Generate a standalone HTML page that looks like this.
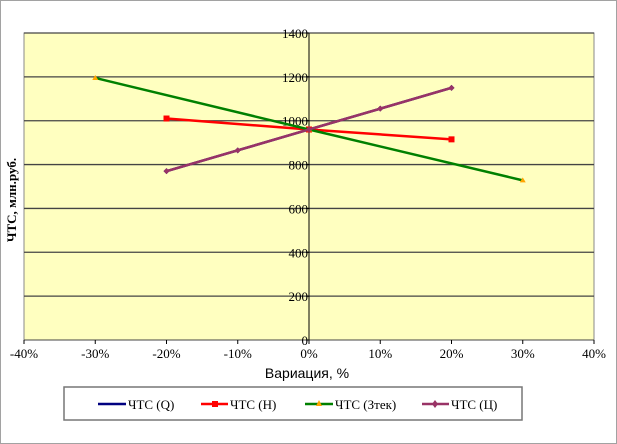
<!DOCTYPE html>
<html><head><meta charset="utf-8"><style>
body{margin:0;background:#fff}
svg{display:block;font-family:"Liberation Serif",serif}
</style></head><body>
<svg width="617" height="444">
<rect x="0.5" y="0.5" width="616" height="443" fill="#fff" stroke="#444" stroke-dasharray="1,1"/>
<rect x="24" y="33" width="570" height="307" fill="#ffffc0" stroke="#888"/>
<g id="grid"></g><g id="axes"></g><g id="series"></g>
<text x="16" y="200" font-size="13" font-weight="bold" transform="rotate(-90 16 200)" text-anchor="middle">ЧТС, млн.руб.</text>
<text x="307" y="378" font-size="14" font-family="Liberation Sans, sans-serif" text-anchor="middle">Вариация, %</text>
<g>
<rect x="64" y="387" width="458" height="33" fill="#fff" stroke="#777" stroke-width="1.5"/>
<g><line x1="98" y1="404" x2="126" y2="404" stroke="#000080" stroke-width="2.5"/><text x="128" y="409" font-size="13">ЧТС (Q)</text></g>
<g><line x1="201" y1="404" x2="228" y2="404" stroke="red" stroke-width="2.5"/><rect x="212" y="401" width="6" height="6" fill="red"/><text x="230" y="409" font-size="13">ЧТС (Н)</text></g>
<g><line x1="305" y1="404" x2="333" y2="404" stroke="#008000" stroke-width="2.5"/><path d="M319 400 L322 406 L316 406Z" fill="orange"/><text x="335" y="409" font-size="13">ЧТС (Зтек)</text></g>
<g><line x1="422" y1="404" x2="449" y2="404" stroke="#993366" stroke-width="2.5"/><path d="M435 400 L438 404 L435 408 L432 404Z" fill="#993366"/><text x="451" y="409" font-size="13">ЧТС (Ц)</text></g>
</g>
</svg>
<script>
const yTicks=[0,200,400,600,800,1000,1200,1400];
const xTicks=[-40,-30,-20,-10,0,10,20,30,40];
const xQ=[-20,-10,0,10,20]; const vQ=[770,865,960,1055,1150];
const xH=[-20,0,20]; const vH=[1010,960,915];
const xZ=[-30,0,30]; const vZ=[1195,960,728];
const xC=[-20,-10,0,10,20]; const vC=[770,865,960,1055,1150];
const NS="http://www.w3.org/2000/svg";
const X=v=>309+v*(570/80), Y=v=>340-v*(307/1400);
function mk(t,a,p){const e=document.createElementNS(NS,t);for(const k in a)e.setAttribute(k,a[k]);p.appendChild(e);return e;}
const g=document.getElementById('grid'),ax=document.getElementById('axes'),s=document.getElementById('series');
yTicks.forEach(v=>{const l=mk('line',{x1:24,x2:594,y1:Y(v),y2:Y(v),stroke:'#444','stroke-width':v?1.3:1},g);


const t=mk('text',{x:X(0)-1,y:Y(v)+5,'font-size':13,'text-anchor':'end'},ax);t.textContent=v;


mk('line',{x1:X(0)-3,x2:X(0),y1:Y(v),y2:Y(v),stroke:'#000'},ax);});
mk('line',{x1:X(0),x2:X(0),y1:33,y2:340,stroke:'#000'},ax);
xTicks.forEach(v=>{mk('line',{x1:X(v),x2:X(v),y1:340,y2:344,stroke:'#000'},ax);
const t=mk('text',{x:X(v),y:358,'font-size':13,'text-anchor':'middle'},ax);t.textContent=v+'%';

});
function series(xs,vs,col,name,mark){const p=mk('polyline',{points:xs.map((x,i)=>X(x)+','+Y(vs[i])).join(' '),fill:'none',stroke:col,'stroke-width':2.5},s);


xs.forEach((x,i)=>{const cx=X(x),cy=Y(vs[i]);let m;
if(mark==='sq')m=mk('rect',{x:cx-3,y:cy-3,width:6,height:6,fill:col},s);
else if(mark==='tri')m=mk('path',{d:`M${cx} ${cy-3}L${cx+3} ${cy+2}L${cx-3} ${cy+2}Z`,fill:'orange'},s);
else m=mk('path',{d:`M${cx} ${cy-3}L${cx+3} ${cy}L${cx} ${cy+3}L${cx-3} ${cy}Z`,fill:col},s);

});}
series(xQ,vQ,'#000080','series-q','dia');
series(xH,vH,'red','series-h','sq');
series(xZ,vZ,'#008000','series-ztek','tri');
series(xC,vC,'#993366','series-c','dia');
</script>
</body></html>
